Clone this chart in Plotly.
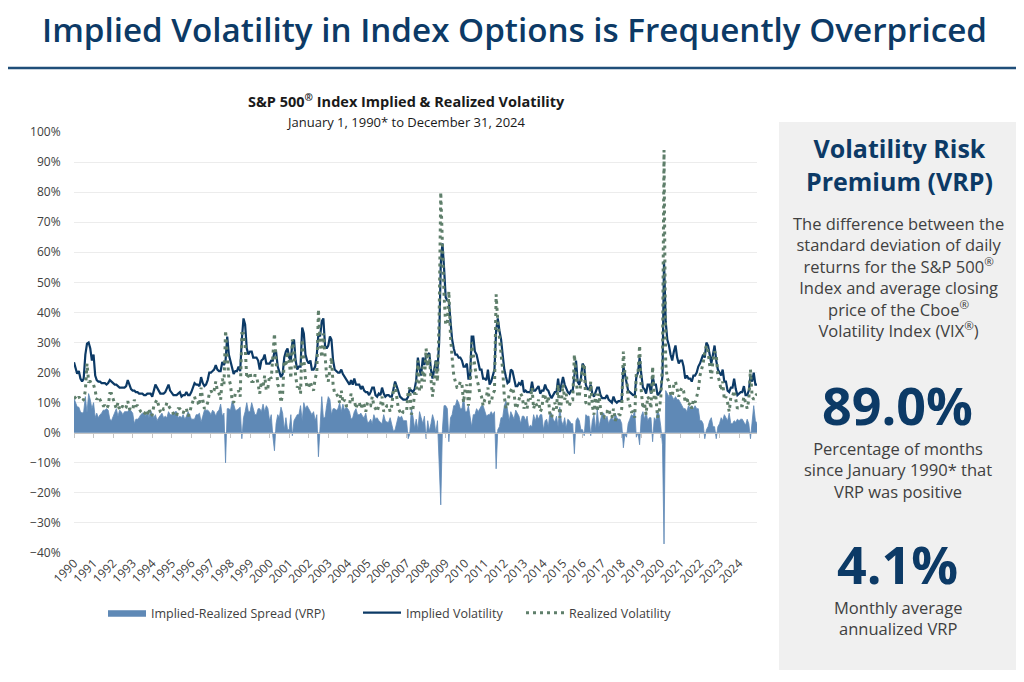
import pandas as pd
import plotly.graph_objects as go

W, H = 1024, 682          # browser window
OFF = 8                   # default page body margin
WF, HF = W - OFF, H - OFF  # figure size
PL, PR, PT, PB = 74, 757, 132, 553   # plot area in window pixels

months = pd.date_range("1990-01-01", "2024-12-01", freq="MS")
YEAR_TICKS = pd.date_range("1990-01-01", "2024-01-01", freq="YS")
YEAR_LABELS = [str(y) for y in range(1990, 2025)]

IMPLIED = [
    23.4, 21, 19.6, 20.5, 18, 17, 18, 26, 29.6, 30, 28, 24,    # 1990
    26, 19, 17.5, 17, 17, 16.5, 16.5, 16.5, 16, 16.5, 17.5, 17,  # 1991
    16.5, 16, 16, 15.5, 15, 15, 15, 15, 15.5, 17.5, 16, 14.5,  # 1992
    14, 14, 13.5, 13.5, 13, 13, 13, 12.5, 12.5, 13, 13, 13,    # 1993
    12, 14, 16, 15, 14, 13, 13, 13, 13.5, 15, 16, 14,          # 1994
    13, 12.5, 12.5, 12.5, 13, 13.5, 12, 12.5, 12.5, 13.5, 12.5, 12.5,  # 1995
    13.5, 15.5, 16.5, 16, 16, 15.5, 18.5, 16.5, 15.5, 16, 17.5, 20,    # 1996
    20, 20.5, 21, 22.5, 21, 20.5, 20.5, 23.5, 22.5, 24, 32, 26,        # 1997
    23.5, 21, 19.5, 20.5, 20.5, 22, 20.5, 31, 38, 36, 28, 26,          # 1998
    27, 27, 25, 25, 25, 24, 21, 24, 24.5, 26, 23, 23,                  # 1999
    23, 24, 24, 27, 27, 22, 20, 18.5, 19.5, 25, 27, 28,                # 2000
    25, 24, 30, 31, 24, 21, 22, 22, 35, 33, 26, 24,                    # 2001
    23, 24, 21, 21, 22, 26, 33, 32, 37, 38, 29, 28,                    # 2002
    29, 32, 31, 24, 21, 20.5, 20, 20, 21, 19.5, 18.5, 17.5,            # 2003
    17, 16, 17.5, 16, 18, 16, 16, 16, 14.5, 15.5, 14, 13.5,            # 2004
    13.5, 12.5, 13.5, 15, 15, 12.5, 12, 13, 12.5, 15, 13, 12,          # 2005
    12.5, 12.5, 12, 12, 14.5, 17, 15.5, 13.5, 12, 11.5, 11, 11,        # 2006
    11, 12, 14.5, 14, 13.5, 14.5, 17.5, 25, 21, 19, 25, 22.5,          # 2007
    26, 26, 26.5, 21, 18, 21, 24, 21, 30, 56, 63, 55,                  # 2008
    45, 44, 44, 37, 31, 28, 26, 26, 25, 25, 24, 22,                    # 2009
    22, 23, 18, 18, 32, 32, 27, 26, 23, 21, 21, 18,                    # 2010
    18, 17.5, 21, 16, 17, 19, 21, 34, 38, 34, 31, 26,                  # 2011
    21, 18.5, 16.5, 17, 21, 20.5, 17.5, 15.5, 15.5, 16.5, 16, 17.5,    # 2012
    13.5, 14, 13.5, 13.5, 13.5, 17, 14, 14, 15, 15.5, 13, 14,          # 2013
    14, 16, 14.5, 14, 12.5, 11.5, 12.5, 13.5, 13.5, 18, 13.5, 16,      # 2014
    18.5, 16, 14.5, 13.5, 13, 14, 14, 19, 24, 17, 16, 18,              # 2015
    23, 22, 16, 14.5, 14.5, 16, 13, 12, 14, 15, 15, 12.5,              # 2016
    11.5, 11.5, 11.5, 12.5, 11, 10.5, 10, 12, 10.5, 10, 10.5, 10.5,    # 2017
    11, 22, 19.5, 17.5, 14, 13.5, 13, 12.5, 12.5, 18.5, 20, 25,        # 2018
    19.5, 15, 14.5, 13, 16, 16, 13, 19, 16, 16, 12.5, 13,              # 2019
    14, 19, 57, 37, 31, 29, 26, 24, 27, 29, 25, 23,                    # 2020
    24, 24, 22, 18, 19, 18, 18, 17, 19, 19, 20, 22,                    # 2021
    23, 25, 26, 25, 30, 29, 26, 23, 26, 29, 24, 21,                    # 2022
    20, 19, 21, 17, 17, 14, 13.5, 15, 15, 18, 14.5, 12.5,              # 2023
    13, 13.5, 13.5, 15.5, 12.5, 12.5, 14, 19, 17, 20, 16, 16,          # 2024
]

REALIZED = [
    12, 11.5, 11, 12, 11, 10.5, 11, 14, 23, 17, 17, 16,        # 1990
    16, 14, 11, 12, 11, 10, 9, 9, 8, 9, 13, 13,                # 1991
    11, 9, 8, 10, 7.5, 8, 9, 8, 8.5, 10.5, 8, 7.5,             # 1992
    7.5, 11, 9, 9, 8, 7, 6.5, 6, 7, 6, 8, 5.5,                 # 1993
    6, 9, 10, 11, 9, 7, 6.5, 8, 8, 10, 9, 8,                   # 1994
    7, 6, 5.5, 5.5, 8, 8, 7, 6.5, 8, 8, 5.5, 6.5,              # 1995
    9, 11, 12, 10, 10, 9, 15, 11, 8, 8.5, 10, 13,              # 1996
    14, 13, 14, 17, 14, 13, 11, 18, 16, 34, 24, 18,            # 1997
    16, 10.5, 10, 13, 13, 14, 12, 33, 33, 29, 18, 19,          # 1998
    20, 17, 17, 19, 19, 16, 13, 17, 15, 19, 14, 15,            # 1999
    19, 18, 25, 33, 24, 16, 15, 10, 13, 24, 22, 27,            # 2000
    24, 18, 31, 27, 19, 15, 16, 13, 31, 23, 18, 15,            # 2001
    15, 17, 15, 14, 18, 20, 41, 30, 25, 33, 24, 19,            # 2002
    17, 21, 25, 16, 13, 13, 12, 10, 14, 10, 11, 9,             # 2003
    9, 9, 13, 11, 11, 8, 10, 10, 8, 10, 9, 7,                  # 2004
    10, 9, 9, 12, 9, 8, 7, 9, 9, 12, 7, 8,                     # 2005
    9, 9, 7, 9, 14, 16, 12, 8, 7, 6, 7, 7,                     # 2006
    7, 14, 15, 6, 8, 13, 13, 24, 14, 14, 22, 17,               # 2007
    28, 22, 26, 18, 12, 17, 24, 17, 38, 80, 62, 46,            # 2008
    36, 36, 47, 32, 25, 19, 17, 15, 15, 17, 16, 10,            # 2009
    15, 16, 9, 13, 30, 26, 21, 18, 16, 13, 12, 9,              # 2010
    11, 12, 15, 10, 10, 13, 14, 46, 37, 32, 26, 21,            # 2011
    12, 8, 9, 13, 14, 15, 13, 8, 9, 11, 13, 12,                # 2012
    8, 10, 8, 12, 11, 15, 8, 10, 9, 11, 7, 8,                  # 2013
    13, 12, 10, 12, 6, 5, 8, 10, 8, 16, 5, 12,                 # 2014
    16, 11, 13, 9, 9, 11, 11, 26, 20, 12, 12, 17,              # 2015
    22, 23, 10, 9, 9, 17, 9, 6, 13, 7, 13, 8,                  # 2016
    5, 5, 7, 7, 8, 6, 5, 8, 4, 5, 6, 6,                        # 2017
    8, 27, 20, 19, 11, 9, 7, 7, 5, 20, 20, 29,                 # 2018
    14, 8, 10, 6, 12, 11, 8, 22, 11, 12, 5, 7,                 # 2019
    12, 23, 94, 23, 18, 17, 13, 12, 16, 17, 14, 12,            # 2020
    14, 15, 14, 10, 12, 9, 10, 8, 11, 10, 12, 14,              # 2021
    19, 21, 23, 27, 29, 27, 22, 18, 24, 27, 26, 19,            # 2022
    17, 14, 17, 11, 12, 10, 7, 12, 12, 14, 11, 8,              # 2023
    9, 9, 9, 12, 10, 8, 11, 21, 12, 11, 12, 13,                # 2024
]

VRP = [round(i - r, 2) for i, r in zip(IMPLIED, REALIZED)]

NAVY = "#0c3a66"
AREA = "#5f89b6"
GREEN = "#5f7f6b"
GREY_TXT = "#404040"
FONT = "Open Sans"


def fx(px):
    return (px - OFF) / WF


def fy(py):
    return 1 - (py - OFF) / HF


ydom = [fy(PB), fy(PT)]
zero_pos = ydom[0] + (40 / 140) * (ydom[1] - ydom[0])

fig = go.Figure()
fig.add_trace(go.Scatter(
    x=months, y=VRP, name="Implied-Realized Spread (VRP)", mode="lines",
    fill="tozeroy", fillcolor=AREA, line=dict(color=AREA, width=0.8),
    hoverinfo="skip", legend="legend"))
fig.add_trace(go.Scatter(
    x=months, y=IMPLIED, name="Implied Volatility", mode="lines",
    line=dict(color=NAVY, width=2.2), hoverinfo="skip", legend="legend2"))
fig.add_trace(go.Scatter(
    x=months, y=REALIZED, name="Realized Volatility", mode="lines",
    line=dict(color=GREEN, width=3, dash="3px,4px"), hoverinfo="skip",
    legend="legend3"))
# invisible trace to carry the zero-level axis with ticks
fig.add_trace(go.Scatter(
    x=[months[0], months[-1]], y=[0, 0], xaxis="x2", mode="lines",
    line=dict(width=0), showlegend=False, hoverinfo="skip"))

leg_common = dict(orientation="h", yanchor="middle", xanchor="left",
                  font=dict(size=12.5, color=GREY_TXT), itemwidth=38,
                  bgcolor="rgba(0,0,0,0)", borderwidth=0)

fig.update_layout(
    template="none",
    width=WF, height=HF,
    margin=dict(l=0, r=0, t=0, b=0),
    paper_bgcolor="white", plot_bgcolor="white",
    font=dict(family=FONT, size=12, color=GREY_TXT),
    showlegend=True,
    legend=dict(x=fx(103), y=fy(613), **leg_common),
    legend2=dict(x=fx(358), y=fy(613), **leg_common),
    legend3=dict(x=fx(521), y=fy(613), **leg_common),
    xaxis=dict(
        domain=[fx(PL), fx(PR)],
        range=[months[0], months[-1]],
        tickvals=YEAR_TICKS, ticktext=YEAR_LABELS, tickangle=-45,
        showgrid=False, zeroline=False, showline=False, ticks="",
        tickfont=dict(size=12, color=GREY_TXT), automargin=False,
    ),
    xaxis2=dict(
        overlaying="x", matches="x", anchor="free", position=zero_pos,
        tickvals=YEAR_TICKS, showticklabels=False, showgrid=False,
        zeroline=False, showline=True, linecolor="#c4c4c4", linewidth=1.2,
        ticks="outside", ticklen=4, tickcolor="#c4c4c4", automargin=False,
    ),
    yaxis=dict(
        domain=ydom, range=[-40, 100], dtick=10, ticksuffix="%",
        showgrid=True, gridcolor="#ececec", gridwidth=1.3,
        zeroline=False, showline=False,
        ticks="outside", ticklen=10, tickcolor="rgba(0,0,0,0)",
        tickfont=dict(size=12, color=GREY_TXT), automargin=False,
    ),
)

shapes = [
    dict(type="line", xref="paper", yref="paper", x0=fx(8), x1=fx(1016),
         y0=fy(68), y1=fy(68), line=dict(color="#1f4e79", width=2.5)),
    dict(type="rect", xref="paper", yref="paper", x0=fx(779), x1=fx(1020),
         y0=fy(670), y1=fy(122), fillcolor="#f0f0f0", line=dict(width=0),
         layer="below"),
]
fig.update_layout(shapes=shapes)


def ann(text, cx, cy, size, color=GREY_TXT, weight=None, height=None):
    f = dict(family=FONT, size=size, color=color)
    if weight:
        f["weight"] = weight
    fig.add_annotation(text=text, x=fx(cx), y=fy(cy), xref="paper", yref="paper",
                       xanchor="center", yanchor="middle", showarrow=False, font=f,
                       height=height)


ann("Implied Volatility in Index Options is Frequently Overpriced", 514, 29, 33.2, NAVY, 600)
ann("S&P 500<sup>®</sup> Index Implied & Realized Volatility", 406, 101, 14.5, "#1a1a1a", 700)
ann("January 1, 1990* to December 31, 2024", 406, 122, 13, "#1a1a1a")

ann("Volatility Risk<br>Premium (VRP)", 899, 164, 25, NAVY, 700)
ann("The difference between the<br>standard deviation of daily<br>"
    "returns for the S&P 500<sup>®</sup><br>Index and average closing<br>"
    "price of the Cboe<sup>®</sup><br>Volatility Index (VIX<sup>®</sup>)",
    898, 277, 16.5)
ann("89.0%", 897, 404, 52, NAVY, 700, height=56)
ann("Percentage of months<br>since January 1990* that<br>VRP was positive",
    898, 470, 16.5)
ann("4.1%", 897, 563, 52, NAVY, 700, height=56)
ann("Monthly average<br>annualized VRP", 898, 618, 16.5)

fig.write_html("out.html")
